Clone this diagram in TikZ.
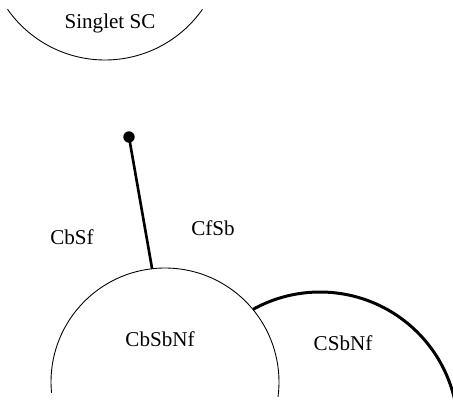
\documentclass[tikz,border=0pt]{standalone}
\usepackage{fontspec}
\setmainfont{Liberation Serif}
\usepackage{tikz}
\usetikzlibrary{calc}

\begin{document}
\begin{tikzpicture}[x=0.02cm,y=0.02cm,every node/.style={font=\fontsize{12}{14}\selectfont},
		thinarc/.style={line width=0.5pt},
		thickarc/.style={line width=1.7pt}]
		\useasboundingbox (0,0) rectangle (453,403);
		\clip (0,0) rectangle (453,403);
		\coordinate (sc) at (105,462);
		\coordinate (cbsbnf) at (165,21);
		\coordinate (csbnf) at (320,-27);
		\draw[thinarc] (sc) ++(215:119) arc[start angle=215,end angle=325,radius=119];
		\draw[thinarc] (cbsbnf) ++(185.5:114) arc[start angle=185.5,end angle=-7.5,radius=114];
		\draw[thickarc] (csbnf) ++(119:138) arc[start angle=119,end angle=5,radius=138];
		\node[circle,fill,inner sep=0pt,minimum size=6.5] (tip) at (129,266) {};
		\coordinate (foot) at ($(cbsbnf)+(96.5:114)$);
		\draw[thickarc,line width=1.5pt] (tip.center) -- (foot);
		\node (singlet) at (110,380) {Singlet SC};
		\node (cbsf) at (72,166) {CbSf};
		\node (cfsb) at (213,175) {CfSb};
		\node (lbl1) at (160,64) {CbSbNf};
		\node (lbl2) at (343,60) {CSbNf};
	\end{tikzpicture}
\end{document}
